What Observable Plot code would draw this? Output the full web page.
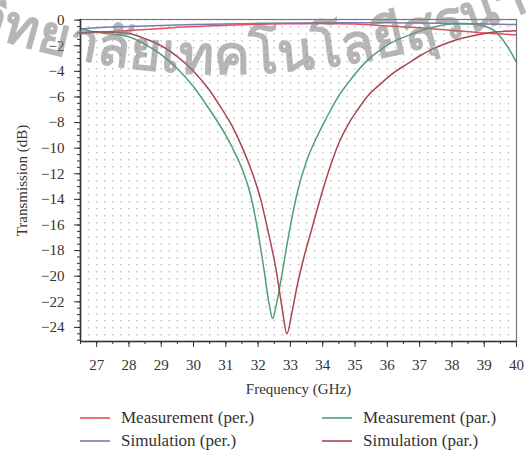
<!DOCTYPE html>
<html>
<head>
<meta charset="utf-8">
<script src="https://cdn.jsdelivr.net/npm/d3@7"></script>
<script src="https://cdn.jsdelivr.net/npm/@observablehq/plot@0.6"></script>
<style>
  html, body { margin: 0; padding: 0; background: #fff; }
  #wrap { position: relative; width: 526px; height: 453px; overflow: hidden; font-family: "Liberation Serif", serif; }
  #legend { position: relative; height: 53px; font-size: 17px; color: #333; }
  .item { position: absolute; display: flex; align-items: center; white-space: nowrap; }
  .item svg { margin-right: 11px; }
  #wm { position: absolute; left: 0; top: 0; pointer-events: none; }
</style>
</head>
<body>
<div id="wrap">
  <div id="chart"></div>
  <div id="legend"></div>
  <svg id="wm" width="526" height="453"></svg>
</div>
<script>
// ---- data ----
const seriesNames = ["Measurement (per.)", "Simulation (per.)", "Measurement (par.)", "Simulation (par.)"];
const seriesColors = ["#e2505b", "#7a7ab6", "#4e9f7b", "#a9474f"];
const watermarkText = ["มหาวิ", "ทยาลัยเทคโนโลยีสุร", "นารี"];

const freqMeasPer = [26.5, 27, 28, 29, 30, 31, 32, 33, 34, 35, 36, 37, 38, 39, 40];
const dbMeasPer   = [-1.05, -0.95, -0.8, -0.65, -0.5, -0.4, -0.32, -0.28, -0.27, -0.3, -0.45, -0.6, -0.8, -1.0, -1.15];

const freqSimPer = [26.5, 27, 28, 30, 32, 34, 36, 38, 40];
const dbSimPer   = [-0.7, -0.6, -0.5, -0.35, -0.25, -0.2, -0.2, -0.25, -0.35];

const freqMeasPar = [26.5, 27.0, 27.5, 28.0, 28.5, 29.0, 29.5, 30.0, 30.5, 31.0, 31.25, 31.5, 31.75, 32.0, 32.2, 32.35, 32.45, 32.55, 32.7, 32.96, 33.22, 33.5, 33.75, 34.0, 34.25, 34.5, 34.77, 35.0, 35.4, 35.75, 36.1, 36.5, 36.8, 37.2, 37.5, 38.0, 38.5, 38.9, 39.1, 39.3, 39.5, 39.73, 40.0];
const dbMeasPar   = [-0.65, -0.95, -1.1, -1.3, -1.9, -2.7, -3.8, -5.2, -7.0, -9.0, -10.2, -11.6, -13.5, -16.6, -19.8, -22.3, -23.3, -22.4, -20.4, -16.6, -13.4, -11.0, -9.5, -8.2, -7.0, -5.9, -4.96, -4.2, -3.1, -2.4, -1.8, -1.35, -1.05, -0.7, -0.5, -0.3, -0.3, -0.4, -0.55, -0.8, -1.3, -2.1, -3.3];

const freqSimPar = [26.5, 27.0, 27.5, 28.0, 28.5, 29.0, 29.5, 30.0, 30.5, 30.84, 31.2, 31.5, 31.8, 32.08, 32.3, 32.55, 32.75, 32.89, 33.05, 33.22, 33.42, 33.63, 33.94, 34.25, 34.5, 34.8, 35.08, 35.4, 35.8, 36.2, 36.63, 37.0, 37.45, 37.9, 38.28, 38.7, 39.1, 39.5, 40.0];
const dbSimPar   = [-1.0, -0.9, -0.95, -1.05, -1.45, -2.0, -2.85, -4.0, -5.5, -6.8, -8.3, -9.9, -11.8, -14.0, -16.4, -19.4, -22.6, -24.5, -22.8, -20.6, -18.5, -16.6, -13.8, -11.3, -9.6, -8.1, -7.0, -5.9, -4.96, -4.1, -3.4, -2.8, -2.2, -1.75, -1.43, -1.2, -1.0, -0.9, -0.83];

const xTicks = [27, 28, 29, 30, 31, 32, 33, 34, 35, 36, 37, 38, 39, 40];
const yTicks = [-24, -22, -20, -18, -16, -14, -12, -10, -8, -6, -4, -2, 0];
const xGrid = d3.range(26.75, 40, 0.25);
const xMinor = d3.range(26.5, 40.01, 0.5);
const yMinor = d3.range(-25, 0.01, 0.5);

// ---- build tables ----
const toRows = (fs, ds) => fs.map((f, i) => ({f, db: ds[i]}));
const rowsList = [
  toRows(freqMeasPer, dbMeasPer),
  toRows(freqSimPer, dbSimPer),
  toRows(freqMeasPar, dbMeasPar),
  toRows(freqSimPar, dbSimPar)
];
const drawOrder = [1, 0, 2, 3];

const chart = Plot.plot({
  width: 526,
  height: 400,
  marginLeft: 80,
  marginRight: 10,
  marginTop: 19,
  marginBottom: 59,
  style: {fontFamily: "Liberation Serif, serif", fontSize: "15px", color: "#333", background: "#fff"},
  x: {domain: [26.5, 40]},
  y: {domain: [-25.1, 0.05]},
  marks: [
    Plot.ruleX(xGrid, {stroke: "#999", strokeDasharray: "1.6,5.4", strokeWidth: 1.5, strokeOpacity: 0.6}),
    ...drawOrder.map(i => Plot.line(rowsList[i], {x: "f", y: "db", stroke: seriesColors[i], strokeWidth: 1.5, curve: "monotone-x"})),
    Plot.frame({stroke: "#777", strokeWidth: 1.2}),
    Plot.ruleX([26.5], {stroke: "#333", strokeWidth: 1.6}),
    Plot.ruleY([-25.1], {stroke: "#333", strokeWidth: 1.6}),
    Plot.axisX(xMinor, {tickSize: 3, tickFormat: () => "", label: null, stroke: "#333"}),
    Plot.axisX({ticks: xTicks, tickSize: 6, tickPadding: 12, label: "Frequency (GHz)", labelArrow: "none", labelAnchor: "center", labelOffset: 52, tickFormat: d => d, stroke: "#333"}),
    Plot.axisY(yMinor, {tickSize: 3, tickFormat: () => "", label: null, stroke: "#333"}),
    Plot.axisY({ticks: yTicks, tickSize: 6, tickPadding: 10, label: "Transmission (dB)", labelArrow: "none", labelAnchor: "center", labelOffset: 64, stroke: "#333"})
  ]
});
document.getElementById("chart").appendChild(chart);

// ---- legend ----
const legend = document.getElementById("legend");
const pos = [[80, 18], [80, 41], [322, 18], [322, 41]];
[0, 1, 2, 3].forEach((i, k) => {
  const el = document.createElement("div");
  el.className = "item";
  el.style.left = pos[k][0] + "px";
  el.style.top = (pos[k][1] - 10) + "px";
  el.style.height = "20px";
  el.innerHTML = `<svg width="30" height="4"><line x1="0" y1="2" x2="30" y2="2" stroke="${seriesColors[i]}" stroke-width="1.6"/></svg><span>${seriesNames[i]}</span>`;
  legend.appendChild(el);
});

// ---- watermark along an arc ----
const wm = d3.select("#wm");
const cx = 225, cy = -688, R = 762;
const a0 = 40 * Math.PI / 180;
const sx = cx - R * Math.sin(a0), sy = cy + R * Math.cos(a0);
const ex = cx + R * Math.sin(a0), ey = sy;
wm.append("defs").append("path").attr("id", "arc")
  .attr("d", `M${sx},${sy} A${R},${R} 0 0 0 ${ex},${ey}`);
const startLen = R * (a0 - Math.asin(cx / R));
const midLen = 475;
const g = wm.append("g")
  .attr("font-family", "Noto Sans, DejaVu Sans, sans-serif")
  .attr("font-weight", "bold").attr("font-size", 58)
  .attr("fill", "rgba(130,130,130,0.58)");
const probe = g.append("text").text(watermarkText[1]);
const natural = probe.node().getComputedTextLength() || midLen;
probe.remove();
const fsz = Math.max(40, Math.min(90, 58 * midLen / natural));
g.attr("font-size", fsz);
g.append("text").append("textPath").attr("href", "#arc")
  .attr("startOffset", startLen).attr("text-anchor", "end").text(watermarkText[0]);
const mid = g.append("text").append("textPath").attr("href", "#arc")
  .attr("startOffset", startLen).text(watermarkText[1]);
const midW = mid.node().getComputedTextLength() || midLen;
g.append("text").append("textPath").attr("href", "#arc")
  .attr("startOffset", startLen + midW).text(watermarkText[2]);
</script>
</body>
</html>
